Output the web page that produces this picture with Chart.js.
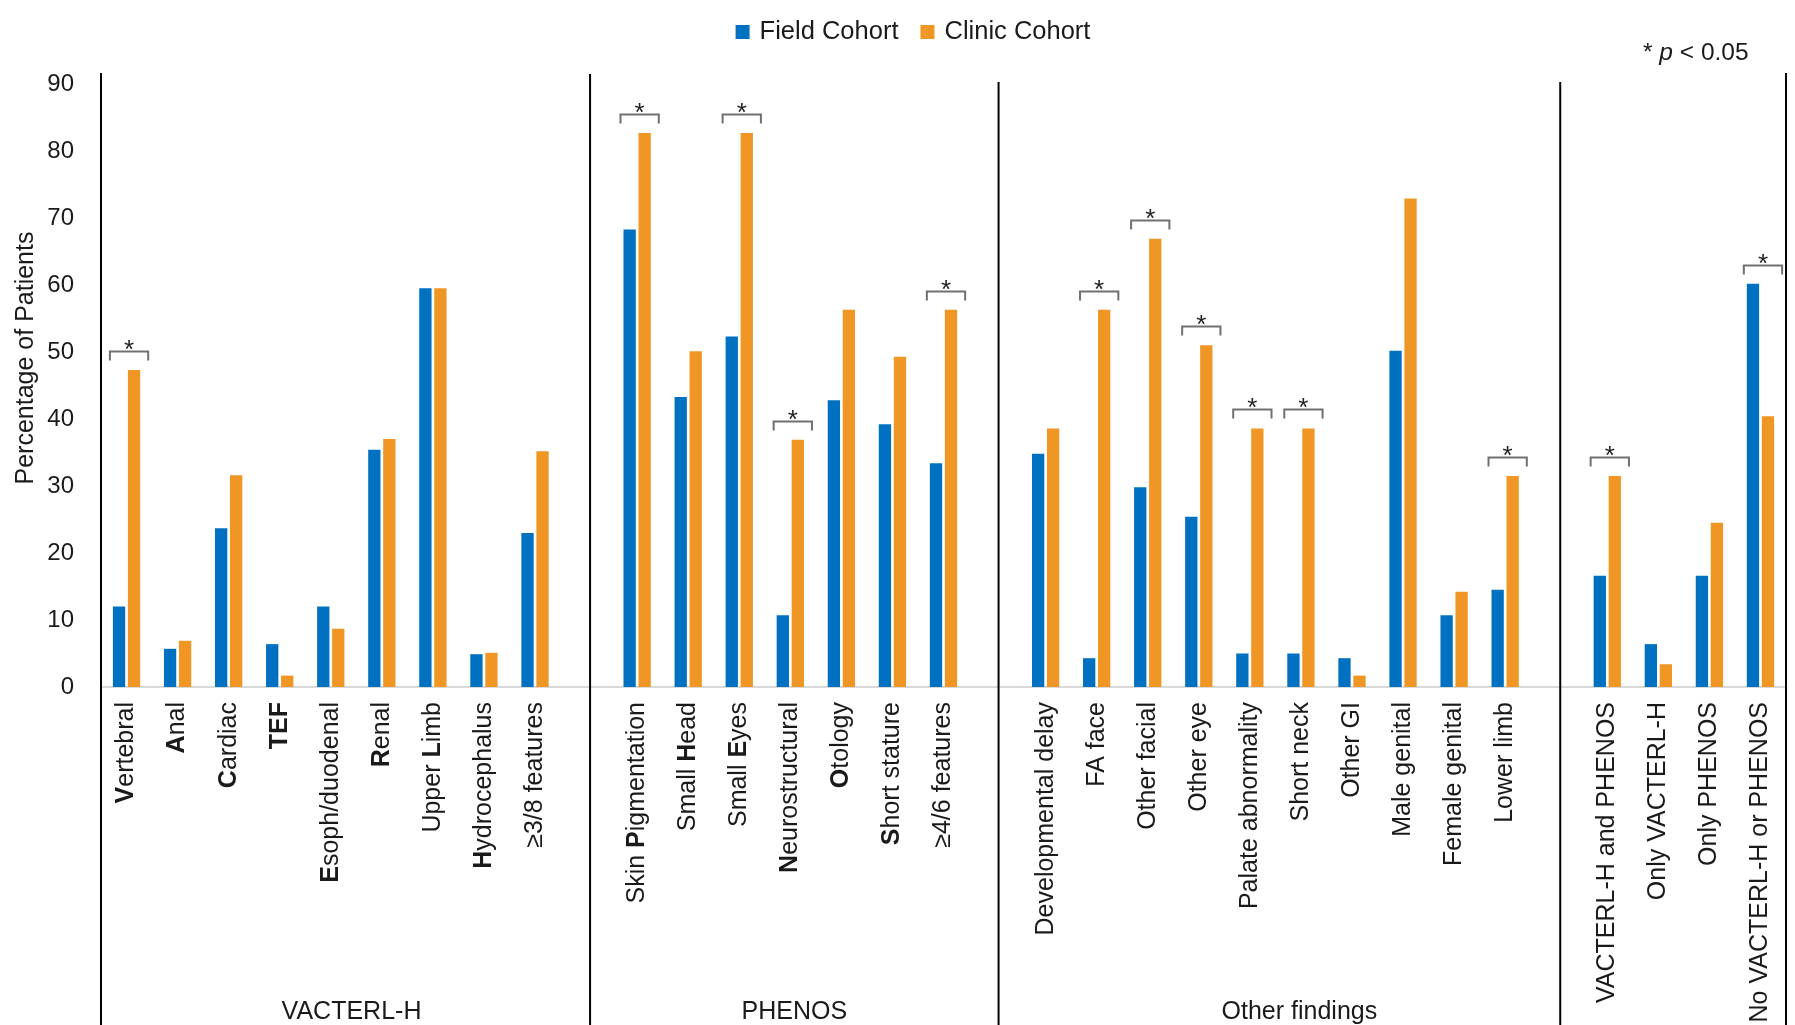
<!DOCTYPE html>
<html>
<head>
<meta charset="utf-8">
<title>Field Cohort vs Clinic Cohort</title>
<script src="https://cdn.jsdelivr.net/npm/chart.js@4.4.1/dist/chart.umd.min.js"></script>
<style>
  html, body { margin: 0; padding: 0; background: #ffffff; }
  #wrap { width: 1795px; height: 1025px; position: relative; overflow: hidden; }
</style>
</head>
<body>
<div id="wrap"><canvas id="chart" width="1795" height="1025"></canvas></div>
<script>
// Category labels per section; letters inside [ ] are set in bold
const vacterlLabels = ['[V]ertebral', '[A]nal', '[C]ardiac', '[TEF]', '[E]soph/duodenal', '[R]enal', 'Upper [L]imb', '[H]ydrocephalus', '≥3/8 features'];
const phenosLabels = ['Skin [P]igmentation', 'Small [H]ead', 'Small [E]yes', '[N]eurostructural', '[O]tology', '[S]hort stature', '≥4/6 features'];
const otherLabels = ['Developmental delay', 'FA face', 'Other facial', 'Other eye', 'Palate abnormality', 'Short neck', 'Other GI', 'Male genital', 'Female genital', 'Lower limb'];
const overlapLabels = ['VACTERL-H and PHENOS', 'Only VACTERL-H', 'Only PHENOS', 'No VACTERL-H or PHENOS'];

const sectionTitles = ['VACTERL-H', 'PHENOS', 'Other findings'];

// Percentage of patients – Field Cohort
const fieldVacterl = [12.0, 5.7, 23.7, 6.4, 12.0, 35.4, 59.5, 4.9, 23.0];
const fieldPhenos = [68.3, 43.3, 52.3, 10.7, 42.8, 39.2, 33.4];
const fieldOther = [34.8, 4.3, 29.8, 25.4, 5.0, 5.0, 4.3, 50.2, 10.7, 14.5];
const fieldOverlap = [16.6, 6.4, 16.6, 60.2];

// Percentage of patients – Clinic Cohort
const clinicVacterl = [47.3, 6.9, 31.6, 1.7, 8.7, 37.0, 59.5, 5.1, 35.2];
const clinicPhenos = [82.7, 50.1, 82.7, 36.9, 56.3, 49.3, 56.3];
const clinicOther = [38.6, 56.3, 66.9, 51.0, 38.6, 38.6, 1.7, 72.9, 14.2, 31.5];
const clinicOverlap = [31.5, 3.4, 24.5, 40.4];

// Findings with a significant difference between cohorts (p < 0.05)
const significant = ['Vertebral', 'Skin Pigmentation', 'Small Eyes', 'Neurostructural', '≥4/6 features',
  'FA face', 'Other facial', 'Other eye', 'Palate abnormality', 'Short neck', 'Lower limb',
  'VACTERL-H and PHENOS', 'No VACTERL-H or PHENOS'];

const yTicks = [0, 10, 20, 30, 40, 50, 60, 70, 80, 90];

const seriesNames = ['Field Cohort', 'Clinic Cohort'];
const seriesColors = ['#0070C0', '#EF9624'];

// Join the sections, leaving one empty slot between neighbouring sections
const sections = [
  { labels: vacterlLabels, field: fieldVacterl, clinic: clinicVacterl },
  { labels: phenosLabels, field: fieldPhenos, clinic: clinicPhenos },
  { labels: otherLabels, field: fieldOther, clinic: clinicOther },
  { labels: overlapLabels, field: fieldOverlap, clinic: clinicOverlap }
];
const markup = [], fieldAll = [], clinicAll = [], gapIndex = [];
sections.forEach((s, k) => {
  if (k > 0) { gapIndex.push(markup.length); markup.push(''); fieldAll.push(null); clinicAll.push(null); }
  markup.push(...s.labels); fieldAll.push(...s.field); clinicAll.push(...s.clinic);
});
const categories = markup.map(s => s.replace(/[\[\]]/g, ''));

const FONT = "'Liberation Sans', Arial, Helvetica, sans-serif";
const TEXT = '#1a1a1a';

// Split "[V]ertebral" into styled runs
function runs(str) {
  const out = [];
  const re = /\[([^\]]*)\]|([^\[]+)/g;
  let m;
  while ((m = re.exec(str)) !== null) {
    if (m[1] !== undefined) out.push({ t: m[1], bold: true });
    else out.push({ t: m[2], bold: false });
  }
  return out;
}

const decor = {
  id: 'decor',
  afterDraw(chart) {
    const ctx = chart.ctx;
    const xs = chart.scales.x;
    const area = chart.chartArea;
    ctx.save();

    // Axis and section dividers run down to the page edge
    const divX = gapIndex.map(g => xs.getPixelForValue(g) + 4);
    ctx.strokeStyle = '#000000';
    ctx.lineWidth = 2;
    const dividers = [
      [area.left, 73],
      [divX[0], 74],
      [divX[1], 82],
      [divX[2], 82],
      [area.right, 73]
    ];
    dividers.forEach(([x, top]) => {
      ctx.beginPath();
      ctx.moveTo(x, top);
      ctx.lineTo(x, chart.height);
      ctx.stroke();
    });

    // Rotated category labels with bold initials
    const labelSize = 25;
    const labelTop = area.bottom + 15;
    markup.forEach((m, i) => {
      if (!m) return;
      const parts = runs(m);
      let total = 0;
      parts.forEach(p => {
        ctx.font = (p.bold ? 'bold ' : '') + labelSize + 'px ' + FONT;
        p.w = ctx.measureText(p.t).width;
        total += p.w;
      });
      ctx.save();
      ctx.translate(xs.getPixelForValue(i), labelTop);
      ctx.rotate(-Math.PI / 2);
      ctx.fillStyle = TEXT;
      ctx.textAlign = 'left';
      ctx.textBaseline = 'middle';
      let cx = -total;
      parts.forEach(p => {
        ctx.font = (p.bold ? 'bold ' : '') + labelSize + 'px ' + FONT;
        ctx.fillText(p.t, cx, 0);
        cx += p.w;
      });
      ctx.restore();
    });

    // Section titles along the bottom
    const bounds = [area.left, divX[0], divX[1], divX[2]];
    const titleShift = [6, 0, 20];
    ctx.font = '25px ' + FONT;
    ctx.fillStyle = TEXT;
    ctx.textAlign = 'center';
    ctx.textBaseline = 'alphabetic';
    sectionTitles.forEach((t, k) => {
      ctx.fillText(t, (bounds[k] + bounds[k + 1]) / 2 + titleShift[k], chart.height - 6);
    });

    // Y axis title
    ctx.save();
    ctx.translate(26, 358);
    ctx.rotate(-Math.PI / 2);
    ctx.font = '25px ' + FONT;
    ctx.textAlign = 'center';
    ctx.textBaseline = 'middle';
    ctx.fillText('Percentage of Patients', 0, 0);
    ctx.restore();

    // Significance brackets
    const m0 = chart.getDatasetMeta(0), m1 = chart.getDatasetMeta(1);
    significant.forEach(name => {
      const i = categories.indexOf(name);
      const b = m0.data[i], o = m1.data[i];
      const left = b.x - b.width / 2 - 3;
      const right = o.x + o.width / 2 + 8;
      const top = Math.round(Math.min(b.y, o.y) - 19) + 0.5;
      ctx.strokeStyle = '#707070';
      ctx.lineWidth = 2;
      ctx.beginPath();
      ctx.moveTo(left, top + 9);
      ctx.lineTo(left, top);
      ctx.lineTo(right, top);
      ctx.lineTo(right, top + 9);
      ctx.stroke();
      ctx.fillStyle = '#222222';
      ctx.font = '26px ' + FONT;
      ctx.textAlign = 'center';
      ctx.textBaseline = 'alphabetic';
      ctx.fillText('*', (left + right) / 2, top + 6);
    });

    // Legend
    ctx.font = '25.5px ' + FONT;
    ctx.textBaseline = 'middle';
    ctx.textAlign = 'left';
    const box = 14, gap = 10, spacing = 22;
    const items = chart.data.datasets.map(d => ({ label: d.label, color: d.backgroundColor, w: ctx.measureText(d.label).width }));
    const width = items.reduce((s, it) => s + box + gap + it.w, 0) + spacing * (items.length - 1);
    let lx = 913 - width / 2;
    const ly = 32;
    items.forEach(it => {
      ctx.fillStyle = it.color;
      ctx.fillRect(lx, ly - box / 2, box, box);
      ctx.fillStyle = TEXT;
      ctx.fillText(it.label, lx + box + gap, ly);
      lx += box + gap + it.w + spacing;
    });

    // Significance note
    const note = [{ t: '* ', s: '' }, { t: 'p', s: 'italic ' }, { t: ' < 0.05', s: '' }];
    let nx = 1643;
    note.forEach(n => {
      ctx.font = n.s + '24.5px ' + FONT;
      ctx.fillText(n.t, nx, 53);
      nx += ctx.measureText(n.t).width;
    });

    ctx.restore();
  }
};

new Chart(document.getElementById('chart'), {
  type: 'bar',
  data: {
    labels: categories,
    datasets: [
      { label: seriesNames[0], data: fieldAll, backgroundColor: seriesColors[0], borderWidth: 0 },
      { label: seriesNames[1], data: clinicAll, backgroundColor: seriesColors[1], borderWidth: 0 }
    ]
  },
  options: {
    responsive: false,
    animation: false,
    devicePixelRatio: 1,
    categoryPercentage: 0.5875,
    barPercentage: 0.82,
    layout: { padding: { top: 84, right: 9, bottom: 0, left: 0 } },
    plugins: {
      legend: { display: false },
      title: { display: false },
      tooltip: { enabled: false }
    },
    scales: {
      x: {
        grid: { display: false },
        border: { display: true, color: '#d9d9d9', width: 2 },
        ticks: { display: false },
        afterFit(scale) { scale.height = 1025 - 687; }
      },
      y: {
        min: 0,
        max: 90,
        grid: { display: false },
        border: { display: false },
        afterBuildTicks(scale) { scale.ticks = yTicks.map(v => ({ value: v })); },
        ticks: {
          padding: 19,
          color: TEXT,
          font: { family: FONT, size: 24 }
        },
        afterFit(scale) { scale.width = 101; }
      }
    }
  },
  plugins: [decor]
});
</script>
</body>
</html>
